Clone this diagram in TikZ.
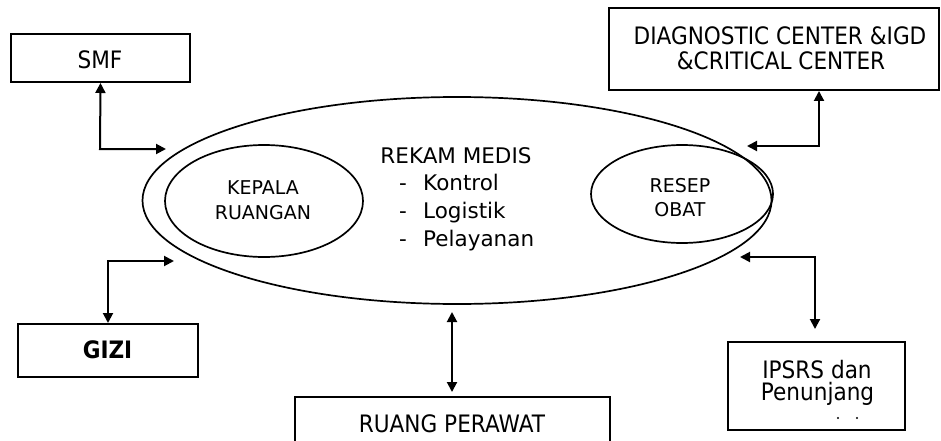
\documentclass[tikz,border=0pt]{standalone}
\usepackage{fontspec}
\setmainfont{DejaVu Sans}
\newfontfamily\boxfont[FakeStretch=0.9]{DejaVu Sans}
\usetikzlibrary{shapes.geometric,arrows.meta}
\begin{document}
\begin{tikzpicture}[x=1pt,y=-1pt,
  unitbox/.style={draw,line width=2pt,rectangle,inner sep=0pt},
  oval/.style={draw,line width=1.7pt,ellipse,inner sep=0pt},
  boxtext/.style={inner sep=0pt,anchor=base,font=\boxfont\fontsize{24}{28}\selectfont},
  ovaltext/.style={inner sep=0pt,anchor=base,font=\fontsize{19}{22}\selectfont},
  midtext/.style={inner sep=0pt,font=\fontsize{21.5}{26}\selectfont},
  link/.style={line width=2pt,{Triangle[length=10pt,width=10pt]}-{Triangle[length=10pt,width=10pt]}}]
\clip (0,0) rectangle (941,441);
\fill[white] (0,0) rectangle (941,441);

% central ellipse with its two inner ellipses
\node[oval,minimum width=629pt,minimum height=207pt] (rm) at (457,200.5) {};
\node[oval,minimum width=198pt,minimum height=112pt] (kr) at (264,201) {};
\node[oval,minimum width=182pt,minimum height=98pt] (ro) at (682,194) {};

\node[midtext,anchor=base] (rmt) at (456,163) {REKAM MEDIS};
\node[midtext,anchor=base] (d1) at (403,190) {-};
\node[midtext,anchor=base west] (i1) at (423,190) {Kontrol};
\node[midtext,anchor=base] (d2) at (403,218) {-};
\node[midtext,anchor=base west] (i2) at (423,218) {Logistik};
\node[midtext,anchor=base] (d3) at (403,246) {-};
\node[midtext,anchor=base west] (i3) at (423,246) {Pelayanan};

\node[ovaltext] (krt1) at (263,194) {KEPALA};
\node[ovaltext] (krt2) at (263,219) {RUANGAN};
\node[ovaltext] (rot1) at (680,192) {RESEP};
\node[ovaltext] (rot2) at (680,216) {OBAT};

% surrounding units
\node[unitbox,minimum width=179pt,minimum height=48pt] (smf) at (100.5,58) {};
\node[boxtext] (smft) at (100,69) {SMF};

\node[unitbox,minimum width=330pt,minimum height=82pt] (diag) at (774,49) {};
\node[boxtext] (diagt1) at (780,45) {DIAGNOSTIC CENTER \&IGD};
\node[boxtext] (diagt2) at (781,70) {\&CRITICAL CENTER};

\node[unitbox,minimum width=180pt,minimum height=53pt] (gizi) at (108,350.5) {};
\node[boxtext,font=\boxfont\bfseries\fontsize{24}{28}\selectfont] (gizit) at (107.5,358) {GIZI};

\node[unitbox,minimum width=315pt,minimum height=60pt] (ruang) at (452.5,427) {};
\node[boxtext] (ruangt) at (452,432) {RUANG PERAWAT};

\node[unitbox,minimum width=177pt,minimum height=88pt] (ipsrs) at (816.5,386) {};
\node[boxtext] (ipsrst1) at (817,378) {IPSRS dan};
\node[boxtext] (ipsrst2) at (817.5,400) {Penunjang};
\fill (838,418) circle (1.2pt) (857,418) circle (1.2pt);

% connectors
\coordinate (smfc) at (100,149);
\coordinate (smfe) at (166,149);
\draw[link] (smf.south) -- (smfc) -- (smfe);

\coordinate (diagc) at (819,146);
\coordinate (diage) at (747,146);
\draw[link] (diagc |- diag.south) -- (diagc) -- (diage);

\coordinate (gizic) at (108,261);
\coordinate (gizie) at (174,261);
\draw[link] (gizi.north) -- (gizic) -- (gizie);

\coordinate (ruange) at (452,312);
\draw[link,shorten >=4pt] (ruange) -- (ruange |- ruang.north);

\coordinate (ipsrsc) at (815,257);
\coordinate (ipsrse) at (740,257);
\draw[link,shorten >=12pt] (ipsrse) -- (ipsrsc) -- (ipsrsc |- ipsrs.north);
\end{tikzpicture}
\end{document}
